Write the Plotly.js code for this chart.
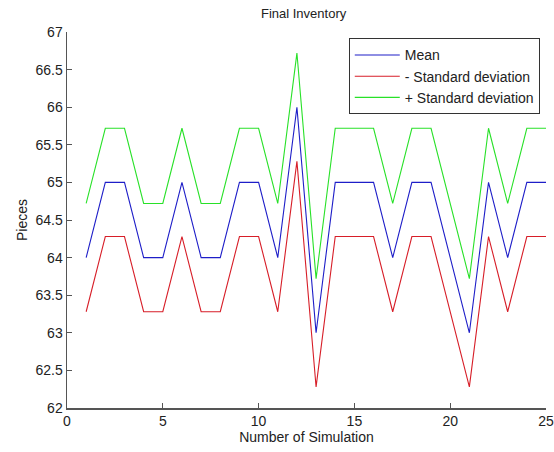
<!DOCTYPE html>
<html>
<head>
<meta charset="utf-8">
<script src="https://cdn.plot.ly/plotly-3.0.1.min.js"></script>
<style>html,body{margin:0;padding:0;background:#fff;}#chart{width:554px;height:452px;}</style>
</head>
<body>
<div id="chart"></div>
<script>
const simulation = [1,2,3,4,5,6,7,8,9,10,11,12,13,14,15,16,17,18,19,20,21,22,23,24,25];
const meanValues = [64,65,65,64,64,65,64,64,65,65,64,66,63,65,65,65,64,65,65,64,63,65,64,65,65];
const minusSD = [63.28,64.28,64.28,63.28,63.28,64.28,63.28,63.28,64.28,64.28,63.28,65.28,62.28,64.28,64.28,64.28,63.28,64.28,64.28,63.28,62.28,64.28,63.28,64.28,64.28];
const plusSD = [64.72,65.72,65.72,64.72,64.72,65.72,64.72,64.72,65.72,65.72,64.72,66.72,63.72,65.72,65.72,65.72,64.72,65.72,65.72,64.72,63.72,65.72,64.72,65.72,65.72];
const seriesNames = ['Mean', '- Standard deviation', '+ Standard deviation'];

const fam = 'Liberation Sans, Arial, sans-serif';
const traces = [
  {x: simulation, y: meanValues, name: seriesNames[0], mode: 'lines', line: {color: 'rgb(30,30,200)', width: 1.1}},
  {x: simulation, y: minusSD, name: seriesNames[1], mode: 'lines', line: {color: 'rgb(215,30,40)', width: 1.1}},
  {x: simulation, y: plusSD, name: seriesNames[2], mode: 'lines', line: {color: 'rgb(40,225,40)', width: 1.1}}
];
const axisCommon = {
  showgrid: false, zeroline: false, showline: true, linecolor: '#555', linewidth: 1.5,
  ticks: 'inside', ticklen: 5, tickcolor: '#555', tickfont: {family: fam, size: 14, color: '#222'}, mirror: false
};
const layout = {
  width: 554, height: 452,
  margin: {l: 67, r: 8, t: 32, b: 44},
  paper_bgcolor: '#fff', plot_bgcolor: '#fff',
  font: {family: fam, size: 14, color: '#222'},
  title: {text: 'Final Inventory', font: {family: fam, size: 13, color: '#222'}, x: 0.548, xanchor: 'center', y: 0.97, yanchor: 'middle'},
  xaxis: Object.assign({}, axisCommon, {range: [0, 25], tickvals: [0,5,10,15,20,25], ticktext: ['0','5','10','15','20','25'],
    title: {text: 'Number of Simulation', font: {family: fam, size: 14, color: '#222'}, standoff: 1}}),
  yaxis: Object.assign({}, axisCommon, {range: [62, 67], tickvals: [62,62.5,63,63.5,64,64.5,65,65.5,66,66.5,67],
    ticktext: ['62','62.5','63','63.5','64','64.5','65','65.5','66','66.5','67'],
    title: {text: 'Pieces', font: {family: fam, size: 14, color: '#222'}, standoff: 4}}),
  legend: {x: 0.987, xanchor: 'right', y: 0.983, yanchor: 'top', bgcolor: '#fff', bordercolor: '#333', borderwidth: 1,
    font: {family: fam, size: 14, color: '#222'}, tracegroupgap: 0, itemwidth: 45}
};
Plotly.newPlot('chart', traces, layout, {displayModeBar: false, staticPlot: true});
</script>
</body>
</html>
